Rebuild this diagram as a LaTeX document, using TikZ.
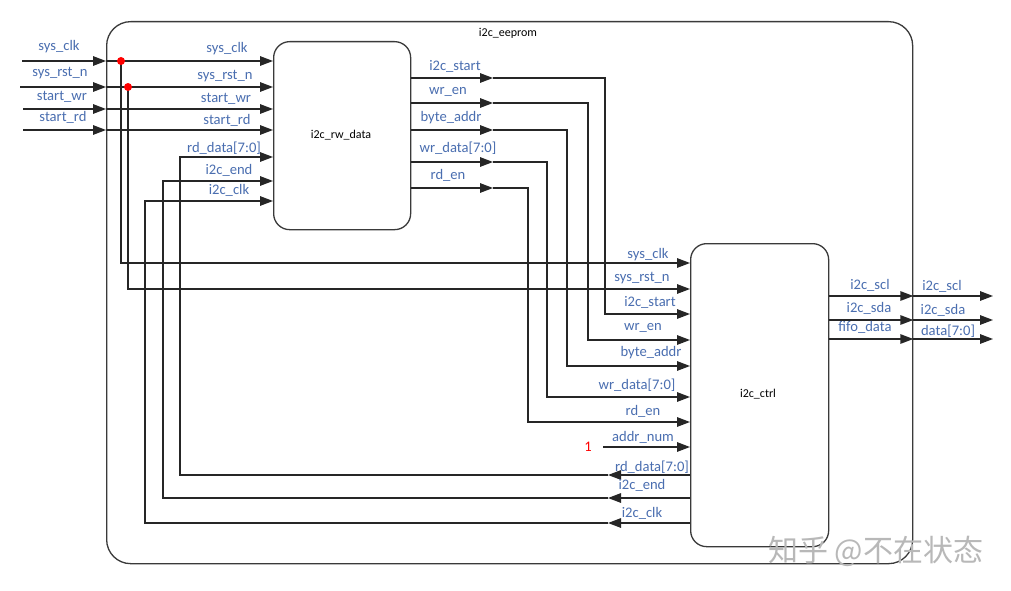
\documentclass[tikz,border=0pt]{standalone}
\usepackage{fontspec}
\setmainfont{Carlito}
\newfontfamily\cjk{Noto Sans CJK SC}
\usetikzlibrary{arrows.meta}
\definecolor{lbl}{HTML}{4A6EB0}
\definecolor{wirec}{HTML}{262626}
\definecolor{boxc}{HTML}{3A3A3A}
\begin{document}
\begin{tikzpicture}[x=1pt,y=-1pt,
  wire/.style={draw=wirec, line width=1.4pt},
  arr/.style={wire, -{Triangle[length=13pt,width=9.5pt]}},
  lab/.style={text=lbl, font=\fontsize{14.6}{14.6}\selectfont, inner sep=0pt},
  blkname/.style={text=black, font=\fontsize{12}{12}\selectfont, inner sep=0pt},
  blk/.style={draw=boxc, line width=1.3pt, inner sep=0pt, anchor=north west}
]
\useasboundingbox[fill=white] (0,0) rectangle (1011,591);

% blocks
\node[blk, rounded corners=24pt, minimum width=806pt, minimum height=542pt] (top) at (106,21) {};
\node[blk, rounded corners=16pt, minimum width=137pt, minimum height=188pt] (rw) at (273,41) {};
\node[blk, rounded corners=16pt, minimum width=138pt, minimum height=303pt] (ctrl) at (690,243) {};
\node[blkname] (ttop) at (508,33) {i2c\_eeprom};
\node[blkname] (trw) at (341,135) {i2c\_rw\_data};
\node[blkname] (tctrl) at (758,394) {i2c\_ctrl};

% external inputs
\coordinate (in0) at (22,61);
\coordinate (in1) at (20,87);
\coordinate (in2) at (23,109);
\coordinate (in3) at (23,130);
\foreach \i in {0,1,2,3}{
  \draw[arr] (in\i) -- (top.west |- in\i);
  \draw[arr] (top.west |- in\i) -- (rw.west |- in\i);
}
\node[lab] (l_in0) at (59,47) {sys\_clk};
\node[lab] (l_in1) at (60,73) {sys\_rst\_n};
\node[lab] (l_in2) at (62,97) {start\_wr};
\node[lab] (l_in3) at (63,117) {start\_rd};
\node[lab] (r_in0) at (227,49) {sys\_clk};
\node[lab] (r_in1) at (225,76) {sys\_rst\_n};
\node[lab] (r_in2) at (226,99) {start\_wr};
\node[lab] (r_in3) at (227,120) {start\_rd};

% taps to ctrl
\coordinate (j0) at (121,61);
\coordinate (j1) at (128,87);
\draw[arr] (j0) |- (ctrl.west |- 0,263);
\draw[arr] (j1) |- (ctrl.west |- 0,289);
\fill[red] (j0) circle (4pt);
\fill[red] (j1) circle (4pt);

% rw outputs to ctrl
\foreach \y/\x/\yy in {78/605/314, 103/588/340, 130/567/366, 162/547/397, 188/528/422}{
  \draw[arr] (rw.east |- 0,\y) -- (493,\y);
  \draw[arr] (493,\y) -| (\x,\yy) -- (ctrl.west |- 0,\yy);
}
\node[lab] (o1) at (455,66) {i2c\_start};
\node[lab] (o2) at (448,92) {wr\_en};
\node[lab] (o3) at (451,118) {byte\_addr};
\node[lab] (o4) at (458,148) {wr\_data[7:0]};
\node[lab] (o5) at (448,175) {rd\_en};

% ctrl inputs labels
\node[lab] (c1) at (648,255) {sys\_clk};
\node[lab] (c2) at (642,278) {sys\_rst\_n};
\node[lab] (c3) at (650,302) {i2c\_start};
\node[lab] (c4) at (643,328) {wr\_en};
\node[lab] (c5) at (651,353) {byte\_addr};
\node[lab] (c6) at (637,385) {wr\_data[7:0]};
\node[lab] (c7) at (643,411) {rd\_en};
\node[lab] (c8) at (643,437) {addr\_num};

% addr_num constant
\node[text=red, font=\fontsize{14.6}{14.6}\selectfont, inner sep=0pt] (one) at (588,447) {1};
\coordinate (a0) at (603,447);
\draw[arr] (a0) -- (ctrl.west |- a0);

% ctrl outputs back to rw
\foreach \y/\x/\yy in {475/180/157, 498/163/181, 523/145/201}{
  \draw[arr] (ctrl.west |- 0,\y) -- (608,\y);
  \draw[arr] (608,\y) -| (\x,\yy) -- (rw.west |- 0,\yy);
}
\node[lab] (c9) at (652,467) {rd\_data[7:0]};
\node[lab] (c10) at (642,485) {i2c\_end};
\node[lab] (c11) at (642,513) {i2c\_clk};
\node[lab] (r1) at (224,148) {rd\_data[7:0]};
\node[lab] (r2) at (229,170) {i2c\_end};
\node[lab] (r3) at (229,190) {i2c\_clk};

% outputs
\foreach \y in {296,320,339}{
  \draw[arr] (ctrl.east |- 0,\y) -- (top.east |- 0,\y);
  \draw[arr] (top.east |- 0,\y) -- (993,\y);
}
\node[lab] (q1) at (870,285) {i2c\_scl};
\node[lab] (q2) at (869,308) {i2c\_sda};
\node[lab] (q3) at (865,327) {fifo\_data};
\node[lab] (p1) at (942,286) {i2c\_scl};
\node[lab] (p2) at (943,310) {i2c\_sda};
\node[lab] (p3) at (948,331) {data[7:0]};

% watermark
\node[text=black!28, font=\cjk\fontsize{30}{30}\selectfont, inner sep=0pt, anchor=west] (wm) at (768,551) {知乎 @不在状态};
\end{tikzpicture}
\end{document}
